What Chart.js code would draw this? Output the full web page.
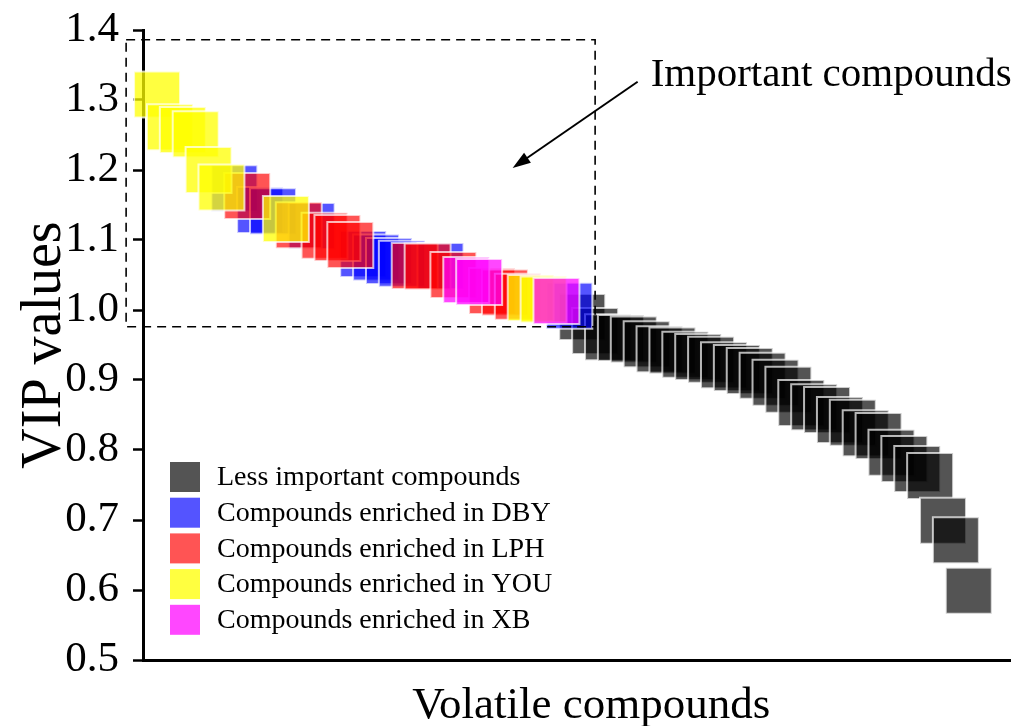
<!DOCTYPE html>
<html>
<head>
<meta charset="utf-8">
<script src="https://cdn.jsdelivr.net/npm/chart.js@4.4.1/dist/chart.umd.min.js"></script>
<style>
  html, body { margin: 0; padding: 0; background: #fff; }
  canvas { display: block; }
</style>
</head>
<body>
<canvas id="chart" width="1031" height="726"></canvas>
<script>
// VIP value of each volatile compound, in plotted (rank) order
const vipValues = [
  1.308, 1.261, 1.257, 1.251, 1.200, 1.175, 1.174, 1.163, 1.143, 1.141,
  1.130, 1.121, 1.120, 1.106, 1.103, 1.093, 1.080, 1.075, 1.070, 1.066,
  1.063, 1.062, 1.063, 1.050, 1.043, 1.040, 1.027, 1.025, 1.019, 1.017,
  1.015, 1.013, 1.006,
  0.990, 0.970, 0.961, 0.960, 0.958, 0.951, 0.944, 0.942, 0.936, 0.933,
  0.929, 0.921, 0.917, 0.913, 0.906, 0.896, 0.886, 0.867, 0.861, 0.857,
  0.843, 0.839, 0.824, 0.820, 0.796, 0.787, 0.773, 0.763, 0.699, 0.671,
  0.599
];
// group of each compound (G less important, B DBY, R LPH, Y YOU, M XB)
const compoundGroups = [
  "Y","Y","Y","Y","Y","Y","B","R","B","B",
  "Y","R","B","R","R","R","B","B","B","B",
  "R","R","B","R","M","M","R","R","R","Y",
  "Y","M","B",
  "G","G","G","G","G","G","G","G","G","G",
  "G","G","G","G","G","G","G","G","G","G",
  "G","G","G","G","G","G","G","G","G","G",
  "G"
];
const groupKeys = ["G", "B", "R", "Y", "M"];
const groupLabels = [
  "Less important compounds",
  "Compounds enriched in DBY",
  "Compounds enriched in LPH",
  "Compounds enriched in YOU",
  "Compounds enriched in XB"
];
const groupColors = [
  "rgba(0, 0, 0, 0.67)",
  "rgba(0, 0, 255, 0.67)",
  "rgba(255, 0, 0, 0.67)",
  "rgba(255, 255, 0, 0.75)",
  "rgba(255, 0, 255, 0.72)"
];
// drawing order: XB on top, then YOU, LPH, DBY, grey at the bottom
const groupDrawOrder = [5, 4, 3, 2, 1];
const yTicks = [0.5, 0.6, 0.7, 0.8, 0.9, 1.0, 1.1, 1.2, 1.3, 1.4];

// "Important compounds" annotation, in data units (x = compound rank)
const importantBox = { xMin: -2.4, xMax: 34.0, yMin: 0.976, yMax: 1.386 };
const arrowFrom = { x: 37.3, y: 1.326 };
const arrowTo = { x: 27.6, y: 1.203 };
const noteText = "Important compounds";
const xTitle = "Volatile compounds";

const FONT = "'Liberation Serif', 'Times New Roman', serif";

const datasets = groupKeys.map((key, g) => ({
  label: groupLabels[g],
  data: vipValues
    .map((v, i) => ({ x: i, y: v, k: compoundGroups[i] }))
    .filter(p => p.k === key),
  backgroundColor: groupColors[g],
  borderColor: "rgba(255, 255, 255, 0.7)",
  borderWidth: 2,
  pointStyle: "rect",
  pointRadius: 32.5,
  pointHoverRadius: 32.5,
  order: groupDrawOrder[g],
  clip: false
}));

const overlay = {
  id: "overlay",
  afterDatasetsDraw(chart) {
    const { ctx, chartArea, scales: { x, y } } = chart;
    ctx.save();

    // dashed box around the important compounds
    ctx.setLineDash([9, 6]);
    ctx.lineWidth = 1.6;
    ctx.strokeStyle = "#000";
    const bx0 = x.getPixelForValue(importantBox.xMin);
    const bx1 = x.getPixelForValue(importantBox.xMax);
    const by0 = y.getPixelForValue(importantBox.yMax);
    const by1 = y.getPixelForValue(importantBox.yMin);
    ctx.strokeRect(bx0, by0, bx1 - bx0, by1 - by0);
    ctx.setLineDash([]);

    // arrow
    const ax0 = x.getPixelForValue(arrowFrom.x), ay0 = y.getPixelForValue(arrowFrom.y);
    const ax1 = x.getPixelForValue(arrowTo.x), ay1 = y.getPixelForValue(arrowTo.y);
    const ang = Math.atan2(ay1 - ay0, ax1 - ax0);
    const headLen = 18, headW = 6;
    ctx.lineWidth = 2;
    ctx.beginPath();
    ctx.moveTo(ax0, ay0);
    ctx.lineTo(ax1 - Math.cos(ang) * headLen * 0.8, ay1 - Math.sin(ang) * headLen * 0.8);
    ctx.stroke();
    ctx.beginPath();
    ctx.moveTo(ax1, ay1);
    ctx.lineTo(ax1 - Math.cos(ang) * headLen - Math.sin(ang) * headW,
               ay1 - Math.sin(ang) * headLen + Math.cos(ang) * headW);
    ctx.lineTo(ax1 - Math.cos(ang) * headLen + Math.sin(ang) * headW,
               ay1 - Math.sin(ang) * headLen - Math.cos(ang) * headW);
    ctx.closePath();
    ctx.fillStyle = "#000";
    ctx.fill();

    // note text
    ctx.font = "41px " + FONT;
    ctx.textBaseline = "alphabetic";
    ctx.textAlign = "left";
    ctx.fillText(noteText, ax0 + 13, ay0 + 4);

    // x axis title
    ctx.font = "45px " + FONT;
    ctx.textAlign = "center";
    ctx.fillText(xTitle, chartArea.left + (chartArea.right - chartArea.left) * 0.517, chartArea.bottom + 58);

    // legend inside the plot, bottom left
    const lx = chartArea.left + 27;
    let ly = chartArea.bottom - 183;
    ctx.font = "28px " + FONT;
    ctx.textAlign = "left";
    ctx.textBaseline = "middle";
    groupLabels.forEach((label, g) => {
      ctx.fillStyle = groupColors[g];
      ctx.fillRect(lx, ly - 15, 30, 30);
      ctx.fillStyle = "#000";
      ctx.fillText(label, lx + 47, ly + 1);
      ly += 35.7;
    });
    ctx.restore();
  }
};

new Chart(document.getElementById("chart"), {
  type: "scatter",
  data: { datasets },
  options: {
    responsive: false,
    animation: false,
    events: [],
    layout: { autoPadding: false, padding: { top: 30, right: 21, left: 0, bottom: 0 } },
    plugins: {
      legend: { display: false },
      tooltip: { enabled: false }
    },
    scales: {
      x: {
        type: "linear",
        min: -1.09,
        max: 66.2,
        ticks: { display: false },
        grid: { display: false },
        border: { display: true, color: "#000", width: 3 },
        afterFit(scale) { scale.height = 66; }
      },
      y: {
        type: "linear",
        min: 0.5,
        max: 1.4,
        afterBuildTicks(scale) { scale.ticks = yTicks.map(v => ({ value: v })); },
        ticks: {
          color: "#000",
          padding: 14,
          font: { family: FONT, size: 43 },
          callback: v => Number(v).toFixed(1)
        },
        grid: {
          display: true,
          drawOnChartArea: false,
          drawTicks: true,
          tickLength: 10,
          tickWidth: 2.5,
          tickColor: "#000"
        },
        border: { display: true, color: "#000", width: 3 },
        title: {
          display: true,
          text: "VIP values",
          color: "#000",
          font: { family: FONT, size: 56 },
          padding: { top: 12, bottom: 0 }
        },
        afterFit(scale) {
          scale.width = 143;
          scale.paddingTop = 0;
          scale.paddingBottom = 0;
        }
      }
    }
  },
  plugins: [overlay]
});
</script>
</body>
</html>
